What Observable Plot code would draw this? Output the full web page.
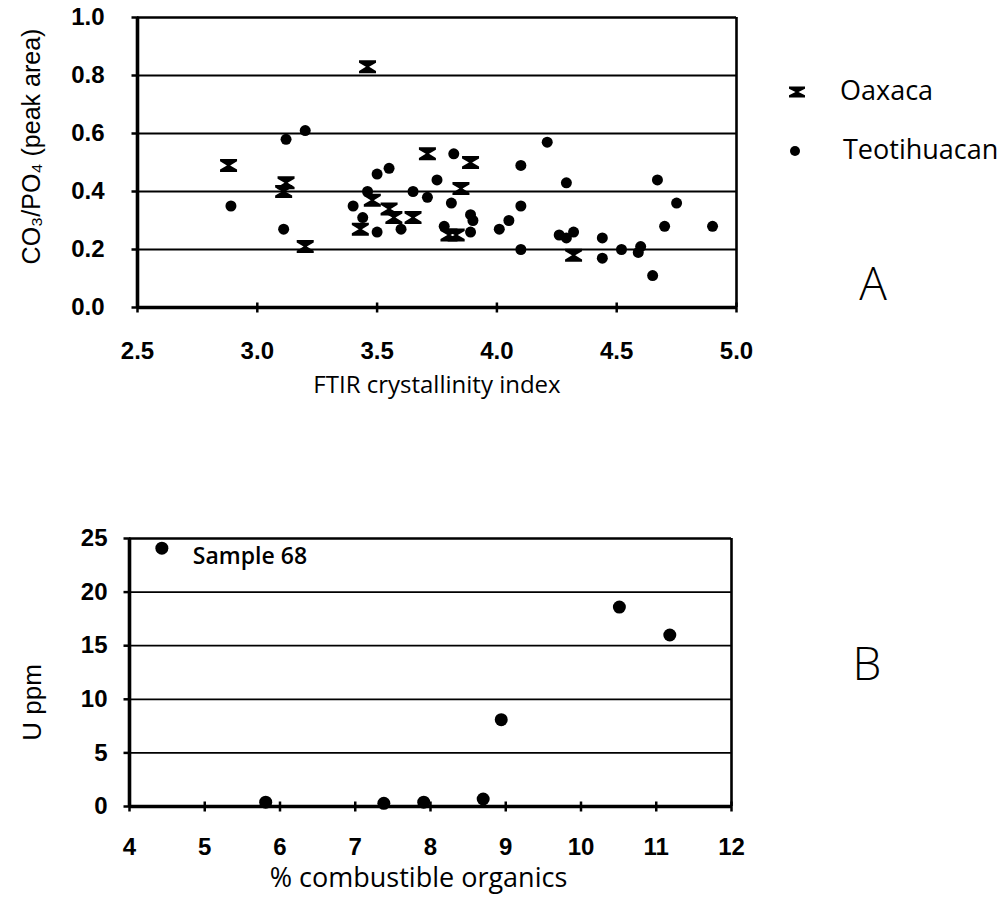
<!DOCTYPE html>
<html>
<head>
<meta charset="utf-8">
<script src="https://cdn.jsdelivr.net/npm/d3@7"></script>
<script src="https://cdn.jsdelivr.net/npm/@observablehq/plot@0.6"></script>
<style>
  body { margin: 0; background: #fff; color: #000; }
  #page { position: relative; width: 1002px; height: 899px; overflow: hidden; background: #fff; }
  #chartA, #chartB { position: absolute; left: 0; }
  #chartA { top: 0; }
  #chartB { top: 500px; }
  .legend-item { position: absolute; font-family: "Open Sans", sans-serif; font-size: 27px; line-height: 30px; white-space: nowrap; }
  .panel-letter { position: absolute; font-family: "Open Sans", sans-serif; font-weight: 300; font-size: 46px; line-height: 1; transform: translate(-50%, -50%); }
</style>
</head>
<body>
<div id="page">
  <div id="chartA"></div>
  <div id="chartB"></div>
  <div id="legend"></div>
  <div class="panel-letter" style="left:873px; top:282px;">A</div>
  <div class="panel-letter" style="left:867px; top:662px;">B</div>
</div>
<script>
// ---- Panel A: carbonate/phosphate ratio vs FTIR crystallinity index ----
const oaxacaCI = [2.88, 3.12, 3.11, 3.20, 3.46, 3.43, 3.48, 3.55, 3.57, 3.65, 3.71, 3.80, 3.83, 3.85, 3.89, 4.32];
const oaxacaCO3 = [0.49, 0.43, 0.40, 0.21, 0.83, 0.27, 0.37, 0.34, 0.31, 0.31, 0.53, 0.25, 0.25, 0.41, 0.50, 0.18];

const teoCI = [2.89, 3.12, 3.20, 3.11, 3.50, 3.55, 3.46, 3.40, 3.44, 3.50, 3.65, 3.71, 3.60, 3.75, 3.82, 3.81,
               3.89, 3.78, 3.89, 3.90, 4.21, 4.10, 4.29, 4.10, 4.05, 4.01, 4.10, 4.26, 4.32, 4.29, 4.44, 4.44,
               4.67, 4.75, 4.70, 4.90, 4.52, 4.60, 4.59, 4.65];
const teoCO3 = [0.35, 0.58, 0.61, 0.27, 0.46, 0.48, 0.40, 0.35, 0.31, 0.26, 0.40, 0.38, 0.27, 0.44, 0.53, 0.36,
                0.32, 0.28, 0.26, 0.30, 0.57, 0.49, 0.43, 0.35, 0.30, 0.27, 0.20, 0.25, 0.26, 0.24, 0.24, 0.17,
                0.44, 0.36, 0.28, 0.28, 0.20, 0.21, 0.19, 0.11];

const xTicksA = [2.5, 3.0, 3.5, 4.0, 4.5, 5.0];
const yTicksA = [0.0, 0.2, 0.4, 0.6, 0.8, 1.0];
const gridA = [0.2, 0.4, 0.6, 0.8];

// ---- Panel B: uranium vs combustible organics ----
const organics = [4.43, 5.81, 7.38, 7.91, 8.70, 8.94, 10.51, 11.18];
const uranium  = [24.1, 0.4, 0.3, 0.4, 0.7, 8.1, 18.6, 16.0];
const sampleLabels = ["Sample 68", "", "", "", "", "", "", ""];

const xTicksB = [4, 5, 6, 7, 8, 9, 10, 11, 12];
const yTicksB = [0, 5, 10, 15, 20, 25];
const gridB = [5, 10, 15, 20];

const legendItems = ["Oaxaca", "Teotihuacan"];

// Hourglass marker: bars top and bottom joined by two tapering triangles.
function hourglassSymbol(w, h, t, s) {
  return {
    draw(ctx) {
      ctx.moveTo(-w, -h); ctx.lineTo(w, -h); ctx.lineTo(w, -h + t); ctx.lineTo(s, 0);
      ctx.lineTo(w, h - t); ctx.lineTo(w, h); ctx.lineTo(-w, h); ctx.lineTo(-w, h - t);
      ctx.lineTo(-s, 0); ctx.lineTo(-w, -h + t); ctx.closePath();
    }
  };
}
const hourglass = hourglassSymbol(8.5, 6.5, 2.4, 1.6);
// Short tick marks straddling the axis lines
const vTick = { draw(ctx) { ctx.moveTo(0, -5); ctx.lineTo(0, 5); } };
const hTick = { draw(ctx) { ctx.moveTo(-6, 0); ctx.lineTo(1, 0); } };

const fmt1 = d3.format(".1f");
const tickFont = { fontFamily: "'Liberation Sans', Arial, sans-serif", fontSize: "24px", fontWeight: "bold", color: "#000", background: "transparent", overflow: "visible" };
const titleFamily = "'Open Sans', sans-serif";
const plainFamily = "'Liberation Sans', Arial, sans-serif";

const oax = oaxacaCI.map((x, i) => ({ x, y: oaxacaCO3[i] }));
const teo = teoCI.map((x, i) => ({ x, y: teoCO3[i] }));

const plotA = Plot.plot({
  width: 1002, height: 410,
  marginLeft: 137, marginRight: 266, marginTop: 17, marginBottom: 103,
  x: { domain: [2.5, 5.0] },
  y: { domain: [0, 1] },
  style: tickFont,
  marks: [
    Plot.ruleY(gridA, { stroke: "#000", strokeWidth: 1.8 }),
    Plot.ruleY([1], { stroke: "#000", strokeWidth: 2.6 }),
    Plot.ruleX([5], { stroke: "#000", strokeWidth: 2.6 }),
    Plot.ruleY([0], { stroke: "#000", strokeWidth: 3.6 }),
    Plot.ruleX([2.5], { stroke: "#000", strokeWidth: 3.6 }),
    Plot.dot(xTicksA, { x: d => d, y: () => 0, symbol: vTick, stroke: "#000", strokeWidth: 2.5, fill: "none" }),
    Plot.dot(yTicksA, { x: () => 2.5, y: d => d, symbol: hTick, stroke: "#000", strokeWidth: 2.5, fill: "none" }),
    Plot.axisX({ ticks: xTicksA, tickSize: 0, tickPadding: 34, tickFormat: fmt1, label: null }),
    Plot.axisY({ ticks: yTicksA, tickSize: 0, tickPadding: 33, tickFormat: fmt1, label: null }),
    Plot.text(["FTIR crystallinity index"], { text: d => d, frameAnchor: "bottom", textAnchor: "middle", dy: 85,
      fontFamily: titleFamily, fontSize: 24, fontWeight: "normal" }),
    Plot.text(["CO₃/PO₄ (peak area)"], { text: d => d, frameAnchor: "left", textAnchor: "middle", rotate: -90, dx: -106, dy: -16,
      fontFamily: plainFamily, fontSize: 25, fontWeight: "normal" }),
    Plot.dot(teo, { x: "x", y: "y", r: 5.5, fill: "#000", stroke: "none" }),
    Plot.dot(oax, { x: "x", y: "y", symbol: hourglass, fill: "#000", stroke: "none" })
  ]
});
document.getElementById("chartA").append(plotA);

const pts = organics.map((x, i) => ({ x, y: uranium[i], label: sampleLabels[i] }));

const plotB = Plot.plot({
  width: 1002, height: 399,
  marginLeft: 129, marginRight: 271, marginTop: 38, marginBottom: 93,
  x: { domain: [4, 12] },
  y: { domain: [0, 25] },
  style: tickFont,
  marks: [
    Plot.ruleY(gridB, { stroke: "#000", strokeWidth: 1.8 }),
    Plot.ruleY([25], { stroke: "#000", strokeWidth: 2.6 }),
    Plot.ruleX([12], { stroke: "#000", strokeWidth: 2.6 }),
    Plot.ruleY([0], { stroke: "#000", strokeWidth: 3.6 }),
    Plot.ruleX([4], { stroke: "#000", strokeWidth: 3.6 }),
    Plot.dot(xTicksB, { x: d => d, y: () => 0, symbol: vTick, stroke: "#000", strokeWidth: 2.5, fill: "none" }),
    Plot.dot(yTicksB, { x: () => 4, y: d => d, symbol: hTick, stroke: "#000", strokeWidth: 2.5, fill: "none" }),
    Plot.axisX({ ticks: xTicksB, tickSize: 0, tickPadding: 31, tickFormat: d3.format("d"), label: null }),
    Plot.axisY({ ticks: yTicksB, tickSize: 0, tickPadding: 22, tickFormat: d3.format("d"), label: null }),
    Plot.text(["% combustible organics"], { text: d => d, frameAnchor: "bottom", textAnchor: "middle", dx: -12, dy: 80,
      fontFamily: titleFamily, fontSize: 27, fontWeight: "normal" }),
    Plot.text(["U ppm"], { text: d => d, frameAnchor: "left", textAnchor: "middle", rotate: -90, dx: -97, dy: 30,
      fontFamily: plainFamily, fontSize: 26, fontWeight: "normal" }),
    Plot.dot(pts, { x: "x", y: "y", r: 6.5, fill: "#000", stroke: "none" }),
    Plot.text(pts.filter(d => d.label), { x: "x", y: "y", text: "label", textAnchor: "start", dx: 31, dy: 8,
      fontFamily: titleFamily, fontSize: 23, fontWeight: 600 })
  ]
});
document.getElementById("chartB").append(plotB);

// Legend for panel A
const legend = document.getElementById("legend");
const legendPos = [{ sx: 797, sy: 92, tx: 840 }, { sx: 795, sy: 151, tx: 843 }];
legendItems.forEach((name, i) => {
  const p = legendPos[i];
  const sym = d3.create("svg").attr("width", 24).attr("height", 24)
    .style("position", "absolute").style("left", (p.sx - 12) + "px").style("top", (p.sy - 12) + "px");
  if (i === 0) {
    const path = d3.path();
    hourglassSymbol(8, 5.5, 2.2, 1.5).draw(path);
    sym.append("path").attr("d", path.toString()).attr("transform", "translate(12,12)").attr("fill", "#000");
  } else {
    sym.append("circle").attr("cx", 12).attr("cy", 12).attr("r", 5).attr("fill", "#000");
  }
  legend.append(sym.node());
  const label = document.createElement("div");
  label.className = "legend-item";
  label.style.left = p.tx + "px";
  label.style.top = (p.sy - 17) + "px";
  label.textContent = name;
  legend.append(label);
});
</script>
</body>
</html>
